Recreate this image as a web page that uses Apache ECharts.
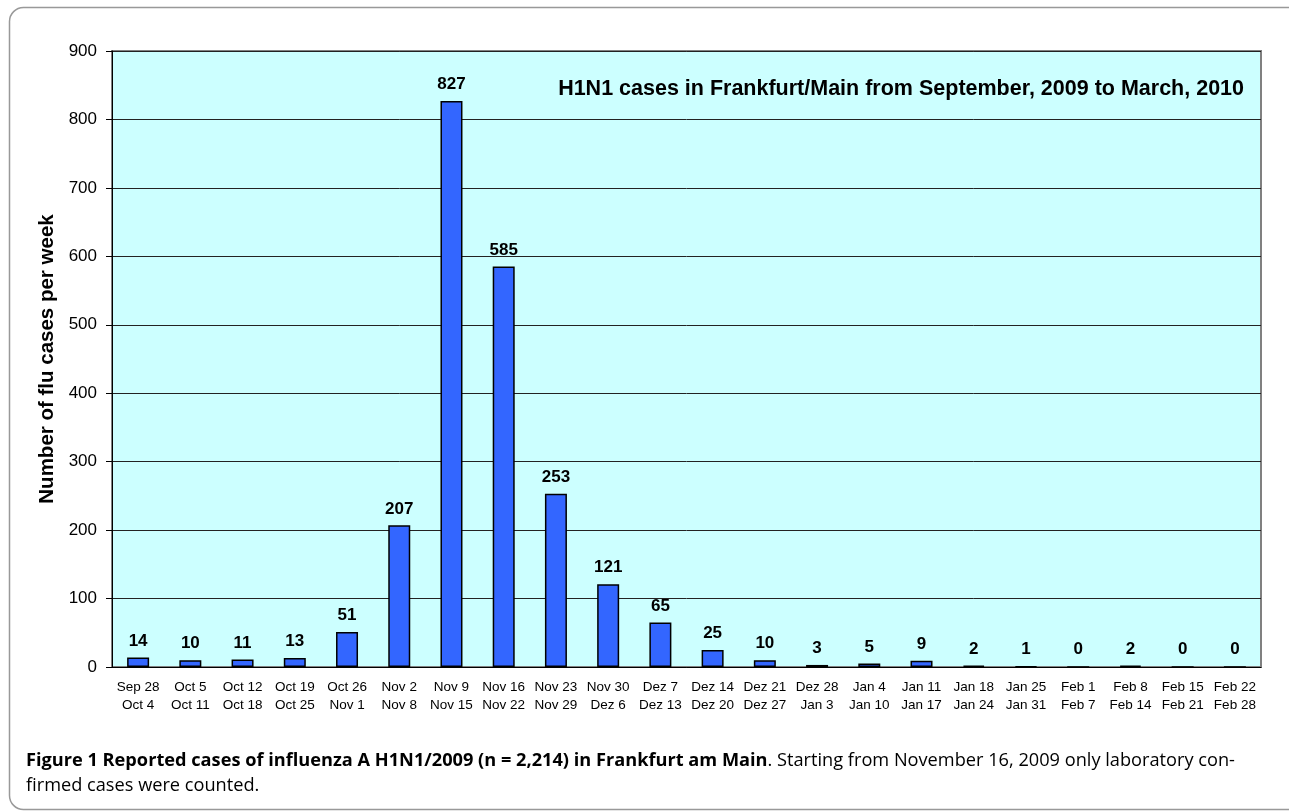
<!DOCTYPE html>
<html>
<head>
<meta charset="utf-8">
<title>H1N1 cases in Frankfurt/Main</title>
<script src="https://cdn.jsdelivr.net/npm/echarts@6/dist/echarts.min.js"></script>
<style>
  html, body { margin: 0; padding: 0; background: #fff; }
  #chart { width: 1289px; height: 812px; }
</style>
</head>
<body>
<div id="chart"></div>
<script>
// weeks (two line labels)
var weeks = [
    'Sep 28\nOct 4', 'Oct 5\nOct 11', 'Oct 12\nOct 18', 'Oct 19\nOct 25', 'Oct 26\nNov 1',
    'Nov 2\nNov 8', 'Nov 9\nNov 15', 'Nov 16\nNov 22', 'Nov 23\nNov 29', 'Nov 30\nDez 6',
    'Dez 7\nDez 13', 'Dez 14\nDez 20', 'Dez 21\nDez 27', 'Dez 28\nJan 3', 'Jan 4\nJan 10',
    'Jan 11\nJan 17', 'Jan 18\nJan 24', 'Jan 25\nJan 31', 'Feb 1\nFeb 7', 'Feb 8\nFeb 14',
    'Feb 15\nFeb 21', 'Feb 22\nFeb 28'
];
// reported cases per week
var cases = [14, 10, 11, 13, 51, 207, 827, 585, 253, 121, 65, 25, 10, 3, 5, 9, 2, 1, 0, 2, 0, 0];
// y axis range
var yMin = 0, yMax = 900, yStep = 100;

var chartTitle = 'H1N1 cases in Frankfurt/Main from September, 2009 to March, 2010';
var yName = 'Number of flu cases per week';
var captionBold = 'Figure 1 Reported cases of influenza A H1N1/2009 (n = 2,214) in Frankfurt am Main';
var captionRest1 = '. Starting from November 16, 2009 only laboratory con-';
var captionRest2 = 'firmed cases were counted.';

var arial = '"Liberation Sans", Arial, sans-serif';
var capFont = '"Open Sans", "Noto Sans", sans-serif';

var chart = echarts.init(document.getElementById('chart'));

var option = {
    backgroundColor: '#fff',
    animation: false,
    title: {
        text: chartTitle,
        right: 40,
        top: 73,
        textStyle: { fontFamily: arial, fontSize: 21.5, fontWeight: 'bold', color: '#000' }
    },
    grid: {
        left: 112, right: 28, top: 51, bottom: 145,
        show: true,
        backgroundColor: '#ccffff',
        borderColor: '#808080',
        borderWidth: 2
    },
    xAxis: {
        type: 'category',
        data: weeks,
        axisLine: { lineStyle: { color: '#000', width: 1 } },
        axisTick: { length: 5, lineStyle: { color: '#000' } },
        axisLabel: {
            interval: 0, margin: 11,
            fontFamily: arial, fontSize: 13.5, lineHeight: 18, color: '#000'
        }
    },
    yAxis: {
        type: 'value',
        min: yMin, max: yMax, interval: yStep,
        name: yName,
        nameLocation: 'middle',
        nameGap: 54,
        nameTextStyle: { fontFamily: arial, fontSize: 20.5, fontWeight: 'bold', color: '#000' },
        axisLine: { show: true, lineStyle: { color: '#000', width: 1 } },
        axisTick: { show: true, length: 6, lineStyle: { color: '#000' } },
        axisLabel: { margin: 15, fontFamily: arial, fontSize: 17, color: '#000' },
        splitLine: { lineStyle: { color: '#222', width: 1 } }
    },
    series: [{
        name: 'cases',
        type: 'bar',
        data: cases,
        barWidth: 22,
        itemStyle: { color: '#3366ff', borderColor: '#000', borderWidth: 1.5 },
        label: {
            show: true,
            position: 'top',
            distance: 8,
            fontFamily: arial, fontSize: 17, fontWeight: 'bold', color: '#000'
        }
    }],
    graphic: [
        {
            // outer frame around figure and caption
            type: 'rect',
            z: -1,
            shape: { x: 9.5, y: 7.5, width: 1300, height: 802, r: 14 },
            style: { fill: null, stroke: '#999', lineWidth: 1.5 }
        },
        {
            type: 'text',
            left: 26,
            top: 752,
            style: {
                text: '{b|' + captionBold + '}{n|' + captionRest1 + '}\n{n|' + captionRest2 + '}',
                rich: {
                    b: { fontFamily: capFont, fontSize: 18.2, fontWeight: 'bold', color: '#111', lineHeight: 25 },
                    n: { fontFamily: capFont, fontSize: 18.2, color: '#222', lineHeight: 25 }
                }
            }
        }
    ]
};

chart.setOption(option);
</script>
</body>
</html>
